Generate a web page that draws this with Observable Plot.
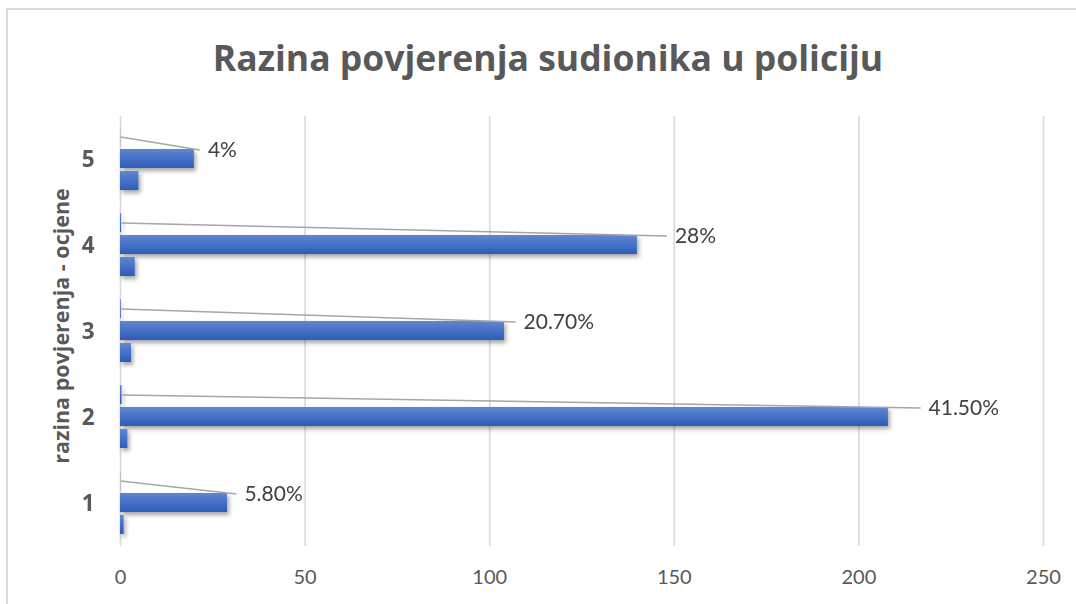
<!DOCTYPE html>
<html>
<head>
<meta charset="utf-8">
<script src="https://cdn.jsdelivr.net/npm/d3@7"></script>
<script src="https://cdn.jsdelivr.net/npm/@observablehq/plot@0.6"></script>
<style>
  body { margin: 0; background: #fff; }
  #wrap { position: relative; width: 1076px; height: 604px; overflow: hidden; font-family: Lato, "Open Sans", sans-serif; background: #fff; }
  #frame { position: absolute; left: 6px; top: 8px; width: 1100px; height: 620px; border-top: 2px solid #d9d9d9; border-left: 2px solid #d9d9d9; }
  #title { position: absolute; left: 10px; top: 36px; width: 1076px; line-height: 42px; text-align: center; font-family: "Open Sans", Lato, sans-serif; font-size: 35.5px; font-weight: 700; color: #595959; }
  #ylabel { position: absolute; left: 60px; top: 326px; transform: translate(-50%, -50%) rotate(-90deg); white-space: nowrap; font-family: "Open Sans", Lato, sans-serif; font-weight: 700; font-size: 21.5px; color: #595959; }
  #chart { position: absolute; left: 0; top: 100px; }
  #chart text.catlab, #chart .catlab text { font-family: "Open Sans", sans-serif; font-weight: 700; }
</style>
</head>
<body>
<div id="wrap">
  <div id="frame"></div>
  <div id="title">Razina povjerenja sudionika u policiju</div>
  <div id="ylabel">razina povjerenja - ocjene</div>
  <div id="chart"></div>
</div>
<script>
// Categories (rating levels) and the three series plotted per category
const categories = [1, 2, 3, 4, 5];
const counts = [29, 208, 104, 140, 20];          // number of participants
const ratingValues = [1, 2, 3, 4, 5];            // rating value series
const percents = [0.058, 0.415, 0.207, 0.28, 0.04]; // share series (tiny bars)
const percentLabels = ["5.80%", "41.50%", "20.70%", "28%", "4%"];
const labelX = [31.4, 216.7, 107, 148, 21.5];     // where the data labels were dragged to (x units)
const xTicks = [0, 50, 100, 150, 200, 250];
const seriesOrder = ["pct", "count", "rating"];

const rows = categories.flatMap((c, i) => [
  {cat: c, series: "pct", value: percents[i]},
  {cat: c, series: "count", value: counts[i]},
  {cat: c, series: "rating", value: ratingValues[i]}
]);
const labels = categories.map((c, i) => ({cat: c, x0: percents[i], x: labelX[i], text: percentLabels[i]}));

const chart = Plot.plot({
  width: 1076,
  height: 504,
  marginTop: 14,
  marginBottom: 56,
  marginLeft: 120,
  marginRight: 33,
  style: {fontFamily: "Lato, 'Open Sans', sans-serif", color: "#595959", background: "transparent"},
  x: {domain: [0, 250], label: null},
  fy: {domain: [5, 4, 3, 2, 1], padding: 0, label: null, axis: null},
  y: {domain: seriesOrder, paddingInner: 0.13, paddingOuter: 0.455, axis: null},
  marks: [
    Plot.gridX(xTicks, {stroke: "#d9d9d9", strokeOpacity: 1, strokeWidth: 1.6}),
    Plot.barX(rows, {fy: "cat", y: "series", x: "value", fill: "url(#barGrad)"}),
    Plot.link(labels, {
      fy: "cat", x1: "x0", y1: () => "pct", x2: "x", y2: () => "count",
      stroke: "#a6a6a6", strokeWidth: 1.5,
      render(index, scales, values, dimensions, context, next) {
        const y2 = Array.from(values.y2, v => v - 9);
        return next(index, scales, {...values, y2}, dimensions, context);
      }
    }),
    Plot.text(labels, {
      fy: "cat", x: "x", y: () => "count", text: "text",
      textAnchor: "start", dx: 8, dy: -9, fontSize: 21, fill: "#404040"
    }),
    Plot.axisX(xTicks, {tickSize: 0, tickPadding: 23, fontSize: 20, fill: "#595959", label: null}),
    // category tick labels on the left (bold)
    Plot.text(categories, {
      fy: d => d, text: d => String(d), frameAnchor: "left", textAnchor: "end",
      dx: -26, fontSize: 22.5, fontWeight: 700, fontFamily: "Open Sans", fill: "#595959",
      className: "catlab"
    })
  ]
});

const svg = chart.tagName.toLowerCase() === "svg" ? chart : chart.querySelector("svg");
const ns = "http://www.w3.org/2000/svg";
const defs = document.createElementNS(ns, "defs");
defs.innerHTML = `
  <linearGradient id="barGrad" x1="0" y1="0" x2="0" y2="1">
    <stop offset="0" stop-color="#5f86d3"/>
    <stop offset="1" stop-color="#2d5bb9"/>
  </linearGradient>
  <filter id="barShadow" x="-5%" y="-30%" width="115%" height="180%">
    <feDropShadow dx="2" dy="3" stdDeviation="2" flood-color="#000" flood-opacity="0.35"/>
  </filter>`;
svg.insertBefore(defs, svg.firstChild);
svg.querySelectorAll('g[aria-label="bar"]').forEach(g => g.setAttribute("filter", "url(#barShadow)"));
document.getElementById("chart").appendChild(chart);
</script>
</body>
</html>
